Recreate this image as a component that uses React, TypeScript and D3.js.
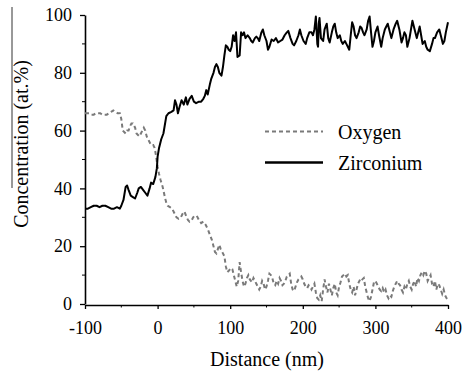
import React, { useRef, useEffect } from 'react';
import * as d3 from 'd3';

// Zirconium depth profile (distance nm, concentration at.%)
const zrDistance = [
  -100, -96, -92, -88, -84, -80, -76, -72, -68, -64, -60, -56, -52, -50, -47, -44, -42, -40, -37, -34,
  -31, -28, -26, -23, -20, -17, -14, -11, -9, -6, -3, -1, 0, 2, 5, 8, 12, 15, 19, 22,
  24, 26, 28, 30, 33, 36, 39, 41, 44, 47, 50, 53, 57, 60, 63, 65, 67, 69, 72, 74,
  77, 79, 81, 83, 85, 88, 90, 92, 94, 96, 98, 100, 102, 104, 106, 108, 110, 113, 115, 117,
  119, 121, 124, 127, 129, 131, 134, 136, 138, 140, 143, 145, 147, 150, 152, 154, 157, 160, 163, 166,
  169, 172, 175, 178, 180, 183, 186, 188, 191, 194, 196, 198, 201, 204, 206, 209, 212, 214, 216, 218,
  220, 221, 222, 223, 225, 228, 230, 233, 235, 237, 240, 242, 244, 246, 248, 251, 253, 255, 258, 260,
  262, 264, 266, 268, 270, 272, 274, 277, 279, 281, 283, 285, 288, 290, 292, 294, 296, 298, 300, 303,
  305, 308, 310, 313, 315, 317, 319, 322, 325, 328, 330, 333, 336, 338, 340, 342, 344, 347, 349, 351,
  354, 357, 359, 361, 363, 365, 368, 370, 372, 375, 378, 380, 382, 385, 388, 390, 393, 395, 397, 400,
];
const zrValues = [
  33, 33, 33.5, 34, 34, 33.5, 34, 34, 33.5, 33, 33, 33.5, 33, 34, 36, 40.5, 41, 39.5, 37.5, 37,
  36.5, 38.5, 40, 40.5, 39.5, 38.5, 37.5, 40, 42, 41.5, 44, 47, 51, 54, 57, 59, 65, 66, 66.5, 67,
  70.5, 69, 66, 68, 70.5, 69, 71.5, 69, 71, 72, 70, 69.5, 70, 70, 71, 72, 74, 72.5, 76, 78,
  80, 82, 83, 82, 80, 79, 82, 86, 89.5, 89, 88, 87.5, 89, 93, 91, 94, 85.5, 86, 94, 93,
  94, 92, 93, 92, 91, 90.5, 92, 92.5, 92, 91, 94, 95, 93, 91, 88, 89, 91.5, 91, 92, 90.5,
  91, 91.5, 93, 94, 94.5, 92, 90, 89.5, 91, 93, 95, 93, 91, 90, 92, 94, 94, 93, 95, 99.5,
  90, 89, 97, 99, 92, 91, 95, 97, 92, 90.5, 94, 96, 97, 94, 92, 93, 91, 90, 91, 90,
  89, 88, 93, 97.5, 96, 93, 92, 94, 96, 95.5, 94, 93, 95, 98, 99.5, 94, 89, 91, 94, 96,
  93, 89, 92, 95, 96, 97, 95, 92, 95, 97, 98, 95, 90.5, 92, 94, 93, 89, 92, 95, 98,
  95, 92, 94, 96, 93, 90, 91, 89, 88, 87.5, 90, 92, 92, 94, 95, 93, 90, 91, 94, 97.5,
];

// Oxygen depth profile
const oxDistance = [
  -100, -97, -94, -91, -88, -85, -82, -79, -76, -73, -70, -67, -64, -61, -58, -55, -52, -50, -48, -46,
  -44, -42, -40, -38, -36, -34, -31, -29, -27, -25, -23, -21, -19, -17, -15, -12, -9, -6, -4, -2,
  0, 2, 4, 7, 10, 12, 14, 17, 20, 23, 26, 29, 32, 35, 37, 40, 42, 44, 47, 49,
  51, 54, 57, 60, 63, 66, 69, 72, 75, 77, 79, 81, 83, 85, 87, 90, 92, 94, 96, 98,
  101, 103, 105, 107, 109, 111, 113, 115, 117, 119, 121, 123, 125, 127, 130, 132, 134, 136, 138, 140,
  142, 144, 146, 148, 150, 152, 154, 156, 158, 160, 162, 164, 166, 168, 170, 172, 174, 176, 178, 180,
  182, 184, 186, 188, 190, 192, 194, 196, 198, 200, 202, 204, 206, 208, 210, 212, 214, 216, 218, 220,
  222, 224, 226, 228, 230, 232, 234, 236, 238, 240, 242, 244, 246, 248, 250, 252, 254, 256, 258, 260,
  262, 264, 266, 268, 270, 272, 274, 276, 278, 280, 282, 284, 286, 288, 290, 292, 294, 296, 298, 300,
  302, 304, 306, 308, 310, 312, 314, 316, 318, 320, 322, 324, 326, 328, 330, 332, 334, 336, 338, 340,
  342, 344, 346, 348, 350, 352, 354, 356, 358, 360, 362, 364, 366, 368, 370, 372, 374, 376, 378, 380,
  382, 384, 386, 388, 390, 392, 394, 396, 398, 400,
];
const oxValues = [
  66, 66, 66, 65.5, 65.5, 66, 66, 66, 65.5, 65.5, 65.5, 66, 66.5, 67, 66.5, 66, 66, 64, 60, 59.5,
  59, 60, 60, 61.5, 62.5, 62.5, 61, 59, 58.5, 58, 59, 60, 61, 60, 58, 56.5, 55, 55, 54, 51,
  47.5, 45, 43, 40.5, 37, 35, 34, 33.5, 33, 31.5, 30, 29.5, 30, 31.5, 32, 30, 29, 28.5, 29, 30,
  30.5, 30.5, 29, 28, 28.5, 27.5, 26, 24, 22, 20, 18, 17.5, 19, 20.5, 19, 17.5, 16.5, 13, 11, 11.5,
  12.5, 12, 10, 8, 6, 8, 14.5, 11, 8, 6, 7, 9, 10, 8.5, 7.5, 9, 8, 7, 6, 5,
  6, 8, 7, 5, 6, 8, 10.5, 10, 9, 7, 6.5, 8, 7, 9, 8, 6.5, 7, 8, 9.5, 10,
  10.5, 7, 5, 4.5, 6, 7.5, 8.5, 9, 9.5, 8.5, 7, 6, 5.5, 6.5, 6, 5, 6, 7, 4, 2,
  1.5, 3, 1, 5, 8.5, 6, 4, 7, 5, 3, 5.5, 7, 4, 3, 6, 7.5, 9.5, 10, 10.5, 9.5,
  10, 7, 5, 4, 6, 3, 5, 7, 8, 9, 8.5, 9, 6, 4, 2, 1, 2.5, 5, 7.5, 8,
  7, 6, 5, 4.5, 5.5, 4, 5, 3, 2, 3, 2.5, 4.5, 6, 7, 8, 7, 6.5, 5, 4, 6,
  5, 7, 8, 6, 5, 7, 8, 6, 9, 8, 10, 11, 10, 11.5, 10.5, 8, 9, 10, 7, 6,
  8, 5, 7, 6.5, 5, 3.5, 5, 3, 2, 1.5,
];

const xTicks = [-100, 0, 100, 200, 300, 400];
const xMinorTicks = [-50, 50, 150, 250, 350];
const yTicks = [0, 20, 40, 60, 80, 100];
const yMinorTicks = [10, 30, 50, 70, 90];

const legendItems = [
  { name: 'Oxygen', color: '#7a7a7a', dash: '4,3', width: 2 },
  { name: 'Zirconium', color: '#000', dash: null, width: 2.5 },
];

const W = 463;
const H = 374;
const font = "'Liberation Serif', 'Times New Roman', Times, serif";

const App = () => {
  const svgRef = useRef<SVGSVGElement>(null);

  useEffect(() => {
    const svg = d3.select(svgRef.current);
    svg.selectAll('*').remove();

    const x = d3.scaleLinear().domain([-100, 400]).range([85, 448]);
    const y = d3.scaleLinear().domain([0, 100]).range([304, 15]);

    // x axis
    const gx = svg.append('g').attr('transform', `translate(0,${y(0) + 1})`);
    gx.call(
      d3.axisBottom(x)
        .tickValues(xTicks)
        .tickFormat(d => String(d))
        .tickSize(4)
        .tickSizeOuter(0)
        .tickPadding(12)
    );
    gx.append('g')
      .selectAll('line')
      .data(xMinorTicks)
      .join('line')
      .attr('x1', d => x(d))
      .attr('x2', d => x(d))
      .attr('y1', 0)
      .attr('y2', 2.5)
      .attr('stroke', '#000');

    // y axis
    const gy = svg.append('g').attr('transform', `translate(${x(-100)},0)`);
    gy.call(
      d3.axisLeft(y)
        .tickValues(yTicks)
        .tickFormat(d => String(d))
        .tickSize(5)
        .tickSizeOuter(0)
        .tickPadding(8)
    );
    gy.append('g')
      .selectAll('line')
      .data(yMinorTicks)
      .join('line')
      .attr('x1', 0)
      .attr('x2', -3)
      .attr('y1', d => y(d))
      .attr('y2', d => y(d))
      .attr('stroke', '#000');

    svg.selectAll('.domain').attr('stroke-width', 1.6);
    svg.selectAll('.tick line').attr('stroke-width', 1.3);
    svg.selectAll('g').attr('font-family', null);
    svg.selectAll('.tick text')
      .style('font-family', font)
      .style('font-size', '18px')
      .attr('fill', '#000');

    const line = d3.line<[number, number]>()
      .x(d => x(d[0]))
      .y(d => y(d[1]));

    const zr = zrDistance.map((d, i) => [d, zrValues[i]] as [number, number]);
    const ox = oxDistance.map((d, i) => [d, oxValues[i]] as [number, number]);

    svg.append('path')
      .datum(ox)
      .attr('d', line)
      .attr('fill', 'none')
      .attr('stroke', '#7a7a7a')
      .attr('stroke-width', 2)
      .attr('stroke-dasharray', '4,3');

    svg.append('path')
      .datum(zr)
      .attr('d', line)
      .attr('fill', 'none')
      .attr('stroke', '#000')
      .attr('stroke-width', 2)
      .attr('stroke-linejoin', 'round');

    // legend
    const lg = svg.append('g').attr('transform', 'translate(265,131.5)');
    legendItems.forEach((item, i) => {
      const row = lg.append('g').attr('transform', `translate(0,${i * 31})`);
      row.append('line')
        .attr('x1', 0)
        .attr('x2', 58)
        .attr('stroke', item.color)
        .attr('stroke-width', item.width)
        .attr('stroke-dasharray', item.dash);
      row.append('text')
        .attr('x', 73)
        .attr('y', 7)
        .style('font-family', font)
        .style('font-size', '20px')
        .text(item.name);
    });

    // axis titles
    svg.append('text')
      .attr('x', 267)
      .attr('y', 366)
      .attr('text-anchor', 'middle')
      .style('font-family', font)
      .style('font-size', '20px')
      .text('Distance (nm)');

    svg.append('text')
      .attr('transform', 'translate(28,144) rotate(-90)')
      .attr('text-anchor', 'middle')
      .style('font-family', font)
      .style('font-size', '20px')
      .text('Concentration (at.%)');

    // scanned overline next to the y title
    svg.append('line')
      .attr('x1', 12)
      .attr('x2', 12)
      .attr('y1', 7)
      .attr('y2', 188)
      .attr('stroke', '#333')
      .attr('stroke-width', 1);
  }, []);

  return (
    <svg
      ref={svgRef}
      width={W}
      height={H}
      style={{ position: 'absolute', left: 0, top: 0, background: '#fff' }}
    />
  );
};

export default App;
